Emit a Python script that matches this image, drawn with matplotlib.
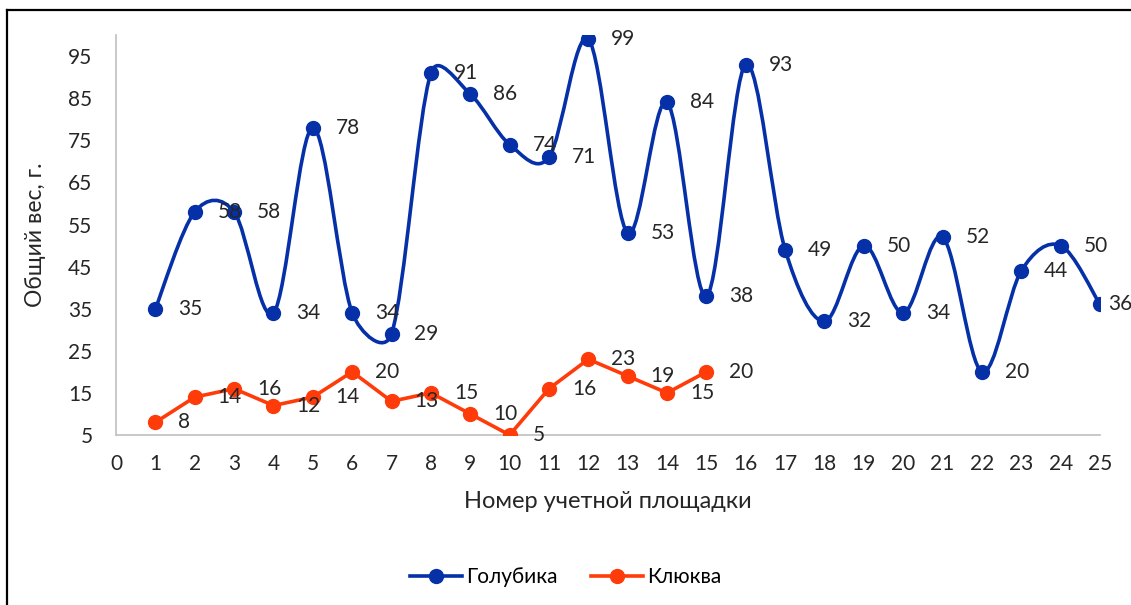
import numpy as np
import matplotlib.pyplot as plt
from matplotlib.path import Path
from matplotlib.patches import PathPatch
from matplotlib.lines import Line2D

plt.rcParams['font.family'] = ['Lato', 'DejaVu Sans']

# данные
x_blue = list(range(1, 26))
golubika = [35, 58, 58, 34, 78, 34, 29, 91, 86, 74, 71, 99, 53, 84, 38,
            93, 49, 32, 50, 34, 52, 20, 44, 50, 36]
x_red = list(range(1, 16))
klyukva = [8, 14, 16, 12, 14, 20, 13, 15, 10, 5, 16, 23, 19, 15, 20]

x_ticks = list(range(0, 26))
y_ticks = list(range(5, 100, 10))

blue = '#0530A8'
red = '#FF3B0A'
grey_txt = '#262626'


def smooth_path(ax, x, y):
    # сглаживание как в Excel: Безье, касательная 1/6, но не длиннее половины отрезка
    pts = ax.transData.transform(np.column_stack([x, y]).astype(float))
    n = len(pts)
    verts = [pts[0]]
    codes = [Path.MOVETO]
    for i in range(n - 1):
        p0 = pts[i - 1] if i > 0 else pts[i]
        p1, p2 = pts[i], pts[i + 1]
        p3 = pts[i + 2] if i + 2 < n else pts[i + 1]
        d12 = np.hypot(*(p2 - p1))
        d02 = np.hypot(*(p2 - p0))
        d13 = np.hypot(*(p3 - p1))
        f1 = 1 / 6 if d02 / 6 < d12 / 2 else d12 / (2 * d02)
        f2 = 1 / 6 if d13 / 6 < d12 / 2 else d12 / (2 * d13)
        verts += [p1 + f1 * (p2 - p0), p2 - f2 * (p3 - p1), p2]
        codes += [Path.CURVE4] * 3
    verts = ax.transData.inverted().transform(np.array(verts))
    return Path(verts, codes)


fig = plt.figure(figsize=(11.31, 6.05), dpi=100)
ax = fig.add_axes([0.1026, 0.281, 0.870, 0.661])
ax.set_xlim(0, 25)
ax.set_ylim(5, 100)

ax.add_patch(PathPatch(smooth_path(ax, x_blue, golubika), fill=False,
                       edgecolor=blue, lw=2.6, zorder=3))
ax.plot(x_blue, golubika, 'o', color=blue, ms=10, zorder=4)
ax.plot(x_red, klyukva, '-o', color=red, lw=2.6, ms=10, zorder=4)

for xs, ys in [(x_blue, golubika), (x_red, klyukva)]:
    for xi, yi in zip(xs, ys):
        dx = 6 if xi == 25 else 16.5
        ax.annotate(str(yi), (xi, yi), xytext=(dx, 0), textcoords='offset points',
                    ha='left', va='center', fontsize=15, color=grey_txt,
                    annotation_clip=False, zorder=5)

ax.set_xticks(x_ticks)
ax.set_yticks(y_ticks)
ax.tick_params(length=0, labelsize=15, colors=grey_txt)
ax.tick_params(axis='x', pad=14)
ax.tick_params(axis='y', pad=17)
for s in ['top', 'right']:
    ax.spines[s].set_visible(False)
for s in ['left', 'bottom']:
    ax.spines[s].set_color('#bfbfbf')
    ax.spines[s].set_linewidth(1.2)

ax.set_xlabel('Номер учетной площадки', fontsize=17, color=grey_txt, labelpad=12)
ax.set_ylabel('Общий вес, г.', fontsize=16.5, color=grey_txt, labelpad=16)

handles = [Line2D([], [], color=blue, lw=2.6, marker='o', ms=10),
           Line2D([], [], color=red, lw=2.6, marker='o', ms=10)]
fig.legend(handles, ['Голубика', 'Клюква'], loc='center', bbox_to_anchor=(0.5, 0.046),
           ncol=2, frameon=False, fontsize=15, handlelength=2.5,
           columnspacing=1.6, handletextpad=0.2)

# рамка
fig.add_artist(Line2D([0.0062, 1.0], [0.9835, 0.9835], color='black', lw=1.6))
fig.add_artist(Line2D([0.0062, 0.0062], [0.0, 0.9835], color='black', lw=1.6))

fig.savefig('out.png', dpi=100)
